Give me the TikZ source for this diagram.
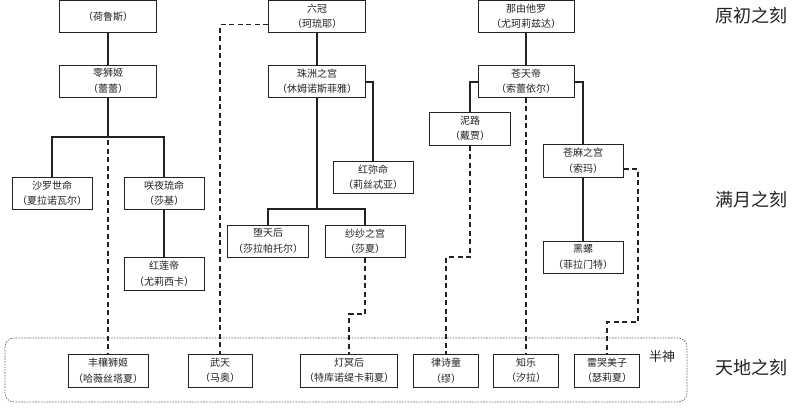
\documentclass[tikz,border=0pt]{standalone}
\usepackage{fontspec}
\newfontfamily\cjk{Noto Sans CJK SC}
\definecolor{ink}{HTML}{222222}
\tikzset{
  box/.style={draw=ink, line width=1pt, fill=white, inner sep=0pt, minimum height=32pt,
    align=center, text=ink, font=\cjk\fontsize{10}{15.5}\selectfont},
  tree/.style={draw=ink, line width=2pt},
  thin tree/.style={draw=ink, line width=1.5pt},
  dashlink/.style={draw=ink, line width=1.8pt, dash pattern=on 5pt off 3.5pt},
  era/.style={text=ink, font=\cjk\fontsize{18}{20}\selectfont, inner sep=0pt},
}
\begin{document}
\begin{tikzpicture}[x=1pt, y=-1pt]
\useasboundingbox (0,0) rectangle (800,410);
% demigod zone
\draw[gray!80!black, line width=0.7pt, dash pattern=on 1.6pt off 1.2pt, rounded corners=9pt] (5,338) rectangle (687,402);
\node[text=ink, font=\cjk\fontsize{13}{14}\selectfont, inner sep=0pt] (banshen) at (662,357) {半神};
% era labels
\node[era] (era1) at (751,16) {原初之刻};
\node[era] (era2) at (751,200) {满月之刻};
\node[era] (era3) at (751,368) {天地之刻};

% nodes
\node[box, minimum width=97pt] (horus) at (108,16.5) {（荷鲁斯）};
\node[box, minimum width=97pt] (lingshi) at (108,81) {零狮姬\\（蕾蕾）};
\node[box, minimum width=97pt] (liuguan) at (317,16.5) {六冠\\（珂琉耶）};
\node[box, minimum width=97pt] (zhuzhou) at (317,81) {珠洲之宫\\（休姆诺斯菲雅）};
\node[box, minimum width=96pt] (nayouta) at (526,16.5) {那由他罗\\（尤珂莉兹达）};
\node[box, minimum width=96pt] (cangtian) at (526,81) {苍天帝\\（索蕾依尔）};
\node[box, minimum width=81pt, minimum height=33pt] (nilu) at (470,128.5) {泥路\\（戴贾）};
\node[box, minimum width=80pt] (shaluo) at (52,193) {沙罗世命\\（夏拉诺瓦尔）};
\node[box, minimum width=80pt] (xiaoye) at (164,193) {咲夜琉命\\（莎基）};
\node[box, minimum width=80pt, minimum height=33pt] (honglian) at (164,273.5) {红莲帝\\（尤莉西卡）};
\node[box, minimum width=80pt] (hongmi) at (373,177) {红弥命\\（莉丝忒亚）};
\node[box, minimum width=81pt] (duotian) at (268,241) {堕天后\\（莎拉帕托尔）};
\node[box, minimum width=80pt] (shasha) at (365,241) {纱纱之宫\\（莎夏）};
\node[box, minimum width=80pt, minimum height=33pt] (cangma) at (583,160.5) {苍麻之宫\\（索玛）};
\node[box, minimum width=80pt] (heiluo) at (583,257) {黑螺\\（菲拉门特）};
\node[box, minimum width=80pt, minimum height=33pt] (fengrang) at (108,370.5) {丰穰狮姬\\（哈薇丝塔夏）};
\node[box, minimum width=64pt, minimum height=33pt] (wutian) at (220,370.5) {武天\\（马奥）};
\node[box, minimum width=97pt, minimum height=33pt] (dengming) at (349,370.5) {灯冥后\\（特库诺缇卡莉夏）};
\node[box, minimum width=65pt, minimum height=33pt] (lvshi) at (446,370.5) {律诗童\\（缪）};
\node[box, minimum width=65pt, minimum height=33pt] (zhile) at (526,370.5) {知乐\\（汐拉）};
\node[box, minimum width=65pt, minimum height=33pt] (leiku) at (607,370.5) {雷哭美子\\（瑟莉夏）};

% junction coordinates
\coordinate (b1) at (108,137);
\coordinate (b2) at (317,209);
\coordinate (j1) at (365,314);
\coordinate (j2) at (470,257);
\coordinate (j3) at (638,322);

% dashed links
\draw[dashlink] (lingshi.south) -- (fengrang.north);
\draw[dashlink] ([yshift=-8pt]liuguan.west) -| (wutian.north);
\draw[dashlink] (shasha.south) -- (j1) -| (dengming.north);
\draw[dashlink] (nilu.south) -- (j2) -| (lvshi.north);
\draw[dashlink] (cangtian.south) -- (zhile.north);
\draw[dashlink] ([yshift=-8.5pt]cangma.east) -| (j3) -| (leiku.north);

% solid tree links
\draw[tree] (horus) -- (lingshi);
\draw[tree] (lingshi.south) -- (b1);
\draw[tree] (shaluo.north) |- (b1) -| (xiaoye.north);
\draw[thin tree] (xiaoye) -- (honglian);
\draw[tree] (liuguan) -- (zhuzhou);
\draw[tree] (zhuzhou.south) -- (b2);
\draw[tree] (duotian.north) |- (b2) -| (shasha.north);
\draw[thin tree] ([yshift=-1pt]zhuzhou.east) -| (hongmi.north);
\draw[tree] (nayouta) -- (cangtian);
\draw[tree] ([yshift=-1pt]cangtian.west) -| (nilu.north);
\draw[tree] ([yshift=-1pt]cangtian.east) -| (cangma.north);
\draw[thin tree] (cangma) -- (heiluo);
\end{tikzpicture}
\end{document}
